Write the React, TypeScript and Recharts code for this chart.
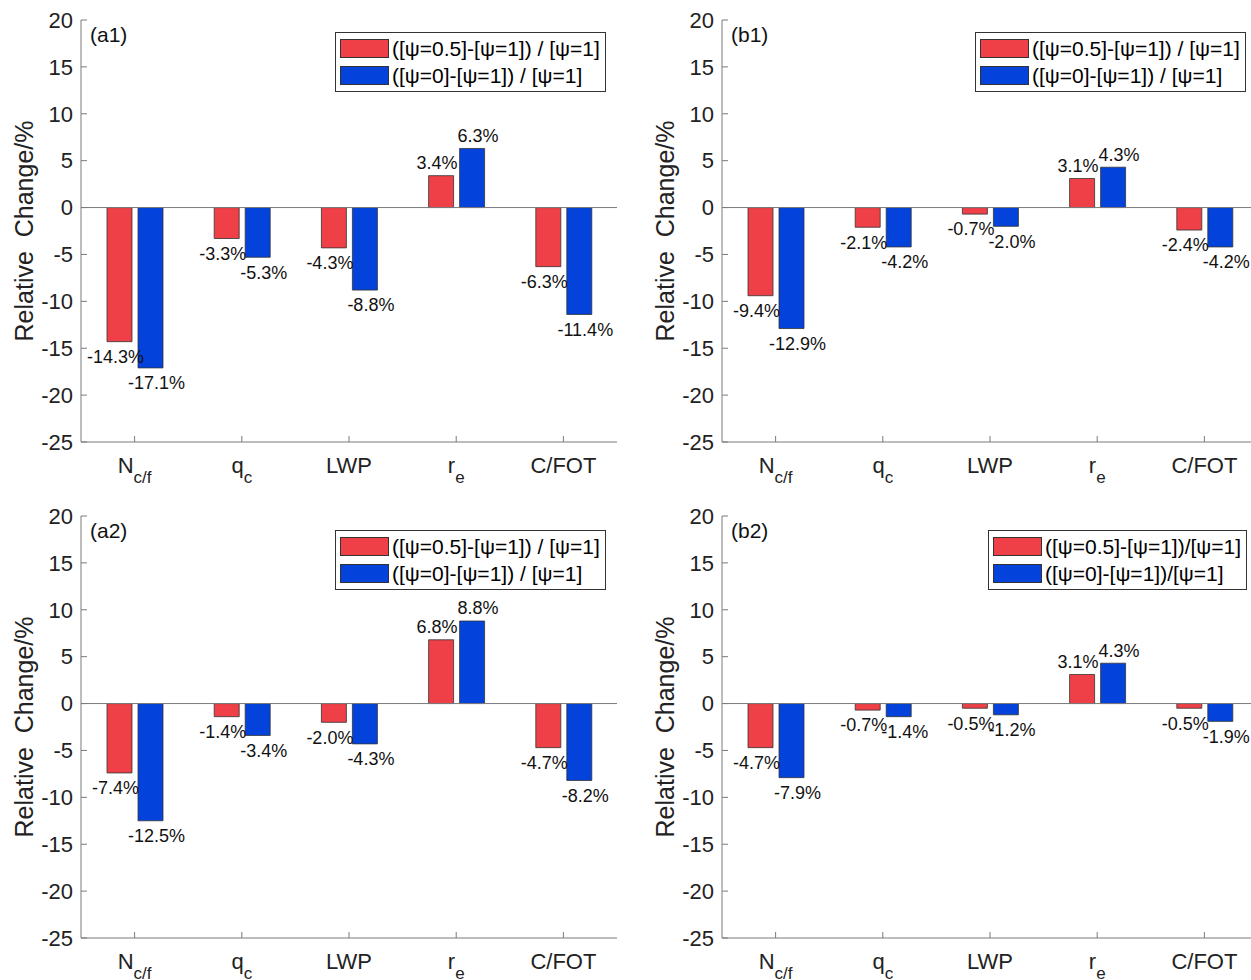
import React from 'react'
import { BarChart, Bar, XAxis, YAxis, ReferenceLine, Legend, LabelList } from 'recharts'

const FONT = '"Liberation Sans", Arial, Helvetica, sans-serif'
const AXIS = '#7a7a7a'
const RED = '#ee4046'
const BLUE = '#0343db'

const CATEGORIES = ['Ncf', 'qc', 'LWP', 're', 'CFOT']
const TICK_TEXT: Record<string, [string, string]> = {
  Ncf: ['N', 'c/f'],
  qc: ['q', 'c'],
  LWP: ['LWP', ''],
  re: ['r', 'e'],
  CFOT: ['C/FOT', ''],
}
const Y_TICKS = [-25, -20, -15, -10, -5, 0, 5, 10, 15, 20]

// relative change in %, order follows CATEGORIES
const A1_HALF = [-14.3, -3.3, -4.3, 3.4, -6.3]
const A1_ZERO = [-17.1, -5.3, -8.8, 6.3, -11.4]
const B1_HALF = [-9.4, -2.1, -0.7, 3.1, -2.4]
const B1_ZERO = [-12.9, -4.2, -2.0, 4.3, -4.2]
const A2_HALF = [-7.4, -1.4, -2.0, 6.8, -4.7]
const A2_ZERO = [-12.5, -3.4, -4.3, 8.8, -8.2]
const B2_HALF = [-4.7, -0.7, -0.5, 3.1, -0.5]
const B2_ZERO = [-7.9, -1.4, -1.2, 4.3, -1.9]

const NAMES_SPACED = ['([ψ=0.5]-[ψ=1]) / [ψ=1]', '([ψ=0]-[ψ=1]) / [ψ=1]']
const NAMES_TIGHT = ['([ψ=0.5]-[ψ=1])/[ψ=1]', '([ψ=0]-[ψ=1])/[ψ=1]']

function CatTick(props: any) {
  const { x, y, payload } = props
  const [main, sub] = TICK_TEXT[payload.value] || [payload.value, '']
  return (
    <text x={x} y={y + 31} textAnchor="middle" fontSize={22} fill="#222" fontFamily={FONT}>
      <tspan>{main}</tspan>
      {sub ? <tspan fontSize={17} dy={10}>{sub}</tspan> : null}
    </text>
  )
}

const barLabel = (dx: number) => (props: any) => {
  const x = Number(props.x), y = Number(props.y)
  const w = Number(props.width), h = Number(props.height)
  const v = Number(props.value)
  const top = Math.min(y, y + h)
  const bottom = Math.max(y, y + h)
  const cy = v < 0 ? bottom + 15 : top - 13
  return (
    <text x={x + w / 2 + dx} y={cy} dy="0.35em" textAnchor="middle" fontSize={18} fill="#111" fontFamily={FONT}>
      {v.toFixed(1)}%
    </text>
  )
}

const legendContent = (names: string[]) => () => (
  <div style={{
    border: '1px solid #333', background: '#fff', padding: '2px 5px 2px 4px',
    display: 'inline-block', lineHeight: 1, fontFamily: FONT,
  }}>
    {names.map((n, i) => (
      <div key={n} style={{ display: 'flex', alignItems: 'center', height: 27 }}>
        <span style={{
          display: 'inline-block', width: 49, height: 19, boxSizing: 'border-box',
          background: i === 0 ? RED : BLUE, border: '1px solid #333', marginRight: 3,
        }} />
        <span style={{ fontSize: 21, color: '#000', whiteSpace: 'nowrap' }}>{n}</span>
      </div>
    ))}
  </div>
)

type PanelProps = {
  tag: string
  half: number[]
  zero: number[]
  names: string[]
  left: number
  top: number
  legendLeft: number
  legendTop: number
}

function Panel({ tag, half, zero, names, left, top, legendLeft, legendTop }: PanelProps) {
  const data = CATEGORIES.map((name, i) => ({ name, half: half[i], zero: zero[i] }))
  return (
    <div style={{ position: 'absolute', left, top }}>
      <BarChart
        width={640}
        height={490}
        data={data}
        margin={{ top: 20, right: 23, bottom: 0, left: 31 }}
        barGap={6}
      >
        <XAxis
          dataKey="name"
          height={48}
          interval={0}
          tick={<CatTick />}
          tickSize={-6}
          tickMargin={6}
          axisLine={{ stroke: AXIS }}
          tickLine={{ stroke: AXIS }}
        />
        <XAxis
          xAxisId="top"
          dataKey="name"
          orientation="top"
          height={0}
          interval={0}
          tick={false}
          tickSize={-6}
          axisLine={{ stroke: AXIS }}
          tickLine={{ stroke: AXIS }}
        />
        <YAxis
          type="number"
          domain={[-25, 20]}
          ticks={Y_TICKS}
          interval={0}
          width={50}
          tickSize={-6}
          tickMargin={14}
          axisLine={{ stroke: AXIS }}
          tickLine={{ stroke: AXIS }}
          tick={{ fontSize: 22, fill: '#222', fontFamily: FONT }}
          label={(p: any) => {
            const vb = p.viewBox
            return (
              <g>
                <text
                  transform={`translate(${vb.x + 2}, ${vb.y + vb.height / 2}) rotate(-90)`}
                  textAnchor="middle"
                  fontSize={25}
                  fill="#222"
                  fontFamily={FONT}
                >
                  {'Relative\u00a0 Change/%'}
                </text>
                <text x={vb.x + vb.width + 9} y={vb.y + 22} fontSize={21} fill="#111" fontFamily={FONT}>
                  {tag}
                </text>
              </g>
            )
          }}
        />
        <YAxis
          yAxisId="right"
          orientation="right"
          type="number"
          domain={[-25, 20]}
          ticks={Y_TICKS}
          interval={0}
          width={0}
          tick={false}
          tickSize={-6}
          axisLine={{ stroke: AXIS }}
          tickLine={{ stroke: AXIS }}
        />
        <ReferenceLine y={0} stroke={AXIS} strokeWidth={1} />
        <Legend
          layout="horizontal"
          verticalAlign="middle"
          align="center"
          content={legendContent(names)}
          wrapperStyle={{ top: legendTop, left: legendLeft, width: 'auto', height: 'auto' }}
        />
        <Bar dataKey="half" name={names[0]} fill={RED} stroke="#333" strokeWidth={0.8} barSize={25} isAnimationActive={false}>
          <LabelList dataKey="half" content={barLabel(-4)} />
        </Bar>
        <Bar dataKey="zero" name={names[1]} fill={BLUE} stroke="#333" strokeWidth={0.8} barSize={25} isAnimationActive={false}>
          <LabelList dataKey="zero" content={barLabel(6)} />
        </Bar>
      </BarChart>
    </div>
  )
}

export default function App() {
  return (
    <div style={{
      position: 'absolute', left: 0, top: 0, width: 1251, height: 980,
      overflow: 'hidden', background: '#fff', fontFamily: FONT,
    }}>
      <Panel tag="(a1)" half={A1_HALF} zero={A1_ZERO} names={NAMES_SPACED} left={0} top={0} legendLeft={335} legendTop={32} />
      <Panel tag="(b1)" half={B1_HALF} zero={B1_ZERO} names={NAMES_SPACED} left={641} top={0} legendLeft={334} legendTop={32} />
      <Panel tag="(a2)" half={A2_HALF} zero={A2_ZERO} names={NAMES_SPACED} left={0} top={496} legendLeft={335} legendTop={34} />
      <Panel tag="(b2)" half={B2_HALF} zero={B2_ZERO} names={NAMES_TIGHT} left={641} top={496} legendLeft={347} legendTop={34} />
    </div>
  )
}
